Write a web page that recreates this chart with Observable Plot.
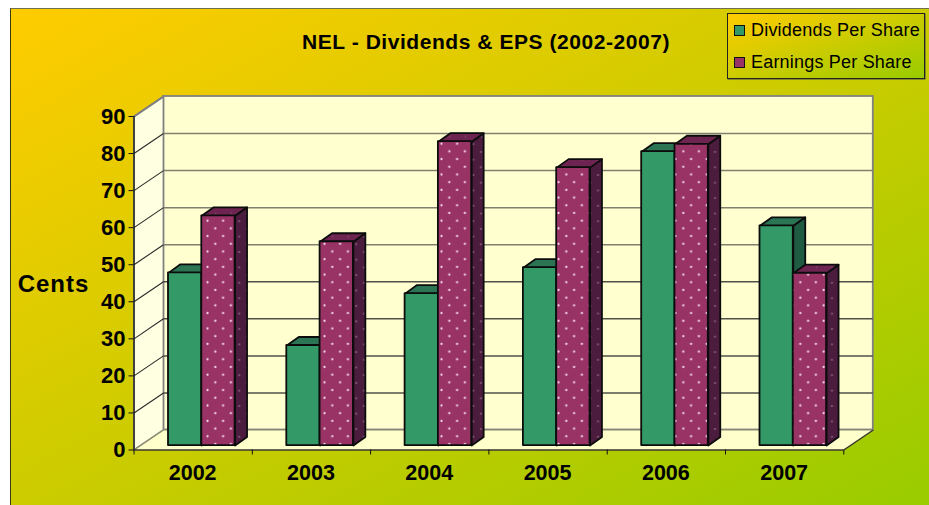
<!DOCTYPE html>
<html>
<head>
<meta charset="utf-8">
<script src="https://cdn.jsdelivr.net/npm/d3@7"></script>
<script src="https://cdn.jsdelivr.net/npm/@observablehq/plot@0.6"></script>
<style>
  html, body { margin: 0; padding: 0; background: #fff; width: 929px; height: 505px; overflow: hidden; }
  #panel { position: absolute; left: 10px; top: 8px; right: 0; bottom: 0; box-sizing: border-box;
    border-left: 1.5px solid #3a3a10; border-top: 1.5px solid #6e6e50;
    background: linear-gradient(to bottom right, #ffcc00, #99cc00); }
  #chart { position: absolute; left: 0; top: 0; }
  #title { position: absolute; left: 186px; width: 600px; top: 30px; text-align: center;
    font: bold 21px "Liberation Sans", Arial, sans-serif; letter-spacing: 0.55px; color: #000; white-space: nowrap; line-height: 24px; }
  #legend { position: absolute; left: 726.5px; top: 13px; width: 198px; height: 66px; box-sizing: border-box;
    border: 1px solid #222; box-shadow: 0.5px 0.5px 0 #444;
    background: linear-gradient(to bottom right, #ffcc00, #99cc00);
    font: 18px "Liberation Sans", Arial, sans-serif; letter-spacing: 0.2px; color: #000; }
  #legend .row { position: absolute; left: 0; white-space: nowrap; line-height: 20px; }
  #legend .sw { position: absolute; left: 6px; top: 5px; width: 9px; height: 9px; border: 1.5px solid #111; }
  #legend .lb { position: absolute; left: 23.5px; top: 0; }
  .cents text { letter-spacing: 1px; }
</style>
</head>
<body>
<div id="panel"></div>
<div id="chart"></div>
<div id="title">NEL - Dividends &amp; EPS (2002-2007)</div>
<div id="legend">
  <div class="row" style="top:6px"><span class="sw" style="background:#339966"></span><span class="lb">Dividends Per Share</span></div>
  <div class="row" style="top:38px"><span class="sw" style="background:#993366"></span><span class="lb">Earnings Per Share</span></div>
</div>
<script>
const years = ["2002", "2003", "2004", "2005", "2006", "2007"];
const dividends = [46.6, 27, 41, 48, 79.3, 59.3];
const earnings = [62, 55, 82, 75, 81.3, 46.5];
const yTicks = [0, 10, 20, 30, 40, 50, 60, 70, 80, 90];

// Depth of the 3D box and bars, in data units of the x (category) and y (cents) scales
const wallDX = 0.2494, wallDY = 5.4;
const barDX = 0.101, barDY = 2.3;
const barInset = 0.2916, barW = 0.2815, baseY = 1.2;

function faces(values, slot) {
  const bars = values.map((v, i) => {
    const x1 = i + barInset + slot * barW, x2 = x1 + barW, y1 = baseY, y2 = baseY + v;
    return { i, x1, x2, y1, y2 };
  });
  const poly = (fn) => bars.flatMap((b) => fn(b).map(([x, y]) => ({ x, y, id: b.i })));
  return {
    bars,
    top: poly((b) => [[b.x1, b.y2], [b.x2, b.y2], [b.x2 + barDX, b.y2 + barDY], [b.x1 + barDX, b.y2 + barDY], [b.x1, b.y2]]),
    side: poly((b) => [[b.x2, b.y1], [b.x2 + barDX, b.y1 + barDY], [b.x2 + barDX, b.y2 + barDY], [b.x2, b.y2], [b.x2, b.y1]])
  };
}
const barStroke = { stroke: "#0c0c0c", strokeWidth: 1.8, strokeLinejoin: "round" };
function barMarks(values, slot, front, top, side) {
  const f = faces(values, slot);
  return [
    Plot.line(f.side, { x: "x", y: "y", z: "id", fill: side, curve: "linear", ...barStroke }),
    Plot.line(f.top, { x: "x", y: "y", z: "id", fill: top, curve: "linear", ...barStroke }),
    Plot.rect(f.bars, { x1: "x1", x2: "x2", y1: "y1", y2: "y2", fill: front, ...barStroke })
  ];
}

const leftWall = [[0, 0], [0, 90], [wallDX, 90 + wallDY], [wallDX, wallDY], [0, 0]].map(([x, y]) => ({ x, y }));
const floor = [[0, 0], [6, 0], [6 + wallDX, wallDY], [wallDX, wallDY], [0, 0]].map(([x, y]) => ({ x, y }));

const defs = () => {
  const d = document.createElementNS("http://www.w3.org/2000/svg", "defs");
  const pat = (id, bg, dot, r) => `<pattern id="${id}" patternUnits="userSpaceOnUse" x="205" y="213" width="15.6" height="15.4">
    <rect width="15.6" height="15.4" fill="${bg}"/>
    <circle cx="2.5" cy="7.7" r="${r}" fill="${dot}"/><circle cx="10.3" cy="0" r="${r}" fill="${dot}"/>
    <circle cx="10.3" cy="15.4" r="${r}" fill="${dot}"/></pattern>`;
  d.innerHTML = pat("dotsFront", "#993366", "#f6dcee", 1.1) + pat("dotsSide", "#4c1c3e", "#8c6a82", 1) + pat("dotsTop", "#6e2450", "#8c5578", 0.8);
  return d;
};

const plot = Plot.plot({
  width: 929, height: 505,
  marginLeft: 133.5, marginRight: 85.7, marginTop: 116, marginBottom: 55.5,
  style: { background: "transparent", overflow: "visible", fontFamily: "'Liberation Sans', Arial, sans-serif", color: "#000" },
  x: { type: "linear", domain: [0, 6] },
  y: { type: "linear", domain: [0, 90] },
  marks: [
    defs,
    // Back wall
    Plot.rect([0], { x1: wallDX, x2: 6 + wallDX, y1: wallDY, y2: 90 + wallDY, fill: "#ffffd0", stroke: "#808080", strokeWidth: 1.8 }),
    // Left wall
    Plot.line(leftWall, { x: "x", y: "y", fill: "#ffffe2", stroke: "#808080", strokeWidth: 1.8 }),
    // Floor
    Plot.line(floor, { x: "x", y: "y", fill: "#ffffcc", stroke: "#8a8a70", strokeWidth: 1.2 }),
    // Back-wall gridlines
    Plot.ruleY(yTicks.filter((t) => t > 0 && t < 90), { y: (t) => t + wallDY, x1: wallDX, x2: 6 + wallDX, stroke: (t) => t >= 50 ? "#808070" : "#505048", strokeWidth: 1.5 }),
    // Side-wall gridlines
    Plot.link(yTicks.filter((t) => t > 0 && t < 90), { x1: 0, y1: (t) => t, x2: wallDX, y2: (t) => t + wallDY, stroke: "#2a2a2a", strokeWidth: 1.1 }),
    Plot.link([90], { x1: 0, y1: 90, x2: wallDX, y2: 90 + wallDY, stroke: "#808080", strokeWidth: 1.8 }),
    Plot.link([0], { x1: 6, y1: 0, x2: 6 + wallDX, y2: wallDY, stroke: "#3a3a20", strokeWidth: 1.1 }),
    // Bars
    ...barMarks(dividends, 0, "#339966", "#2b7454", "#1f5a42"),
    ...barMarks(earnings, 1, "url(#dotsFront)", "url(#dotsTop)", "url(#dotsSide)"),
    // Axes
    Plot.ruleX([0], { y1: 0, y2: 90, stroke: "#111", strokeWidth: 1.2 }),
    Plot.ruleY([0], { x1: 0, x2: 6, stroke: "#111", strokeWidth: 1.2 }),
    Plot.axisY({ ticks: yTicks, tickSize: 5, tickPadding: 3.5, label: null, fontSize: 22, fontWeight: "bold", stroke: "#111", fill: "#000" }),
    Plot.axisX({ ticks: d3.range(0, 7), tickSize: 5, tickFormat: () => "", label: null, stroke: "#111" }),
    Plot.axisX({ ticks: years.map((_, i) => i + 0.5), tickSize: 0, tickPadding: 15, dx: -0.5, tickFormat: (d) => years[Math.floor(d)], label: null, fontSize: 21.5, fontWeight: "bold", fill: "#000" }),
    Plot.text(["Cents"], { frameAnchor: "left", dx: -80.5, dy: 1.5, textAnchor: "middle", fontSize: 24, fontWeight: "bold", fill: "#000", className: "cents" })
  ]
});
document.getElementById("chart").appendChild(plot);
</script>
</body>
</html>
